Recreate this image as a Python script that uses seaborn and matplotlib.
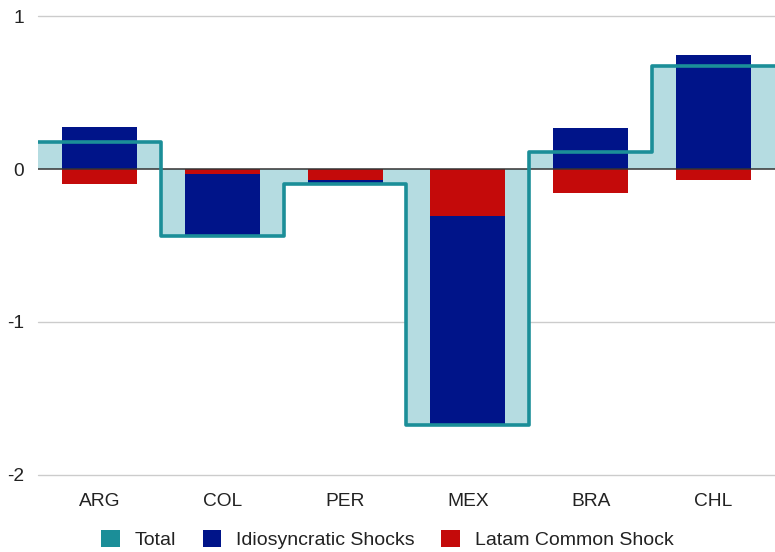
import numpy as np
import pandas as pd
import matplotlib
matplotlib.use("Agg")
import matplotlib.pyplot as plt
import seaborn as sns
from matplotlib.patches import Patch

countries = ["ARG", "COL", "PER", "MEX", "BRA", "CHL"]
idiosyncratic = [0.275, -0.41, -0.02, -1.36, 0.268, 0.745]
common = [-0.098, -0.03, -0.075, -0.31, -0.157, -0.072]
total = [0.177, -0.44, -0.095, -1.67, 0.111, 0.673]
yticks = [1, 0, -1, -2]

TEAL = "#1b8e98"
FILL = "#b5dce1"
NAVY = "#001489"
RED = "#c40a0a"

sns.set_theme(style="white")
plt.rcParams["font.family"] = ["Liberation Sans", "DejaVu Sans"]

df = pd.DataFrame({"country": countries, "idio": idiosyncratic,
                   "common": common, "total": total})
# negative idiosyncratic shocks stack below a negative common shock
df["idio_base"] = np.where((df["idio"] < 0) & (df["common"] < 0), df["common"], 0.0)

fig = plt.figure(figsize=(7.75, 5.52), dpi=100)
ax = fig.add_axes([0.049, 0.1395, 0.951, 0.8315])

# total as a stepped area across each country's band
edges = np.arange(len(countries) + 1) - 0.5
step_vals = np.append(df["total"].values, df["total"].values[-1])
ax.fill_between(edges, 0, step_vals, step="post", color=FILL, lw=0, zorder=1)

sns.barplot(data=df, x="country", y="common", color=RED, width=0.61,
            saturation=1, ax=ax, zorder=2, linewidth=0)
sns.barplot(data=df, x="country", y="idio", bottom=df["idio_base"].values,
            color=NAVY, width=0.61, saturation=1, ax=ax, zorder=2, linewidth=0)

ax.step(edges, step_vals, where="post", color=TEAL, lw=2.6, zorder=4,
        solid_joinstyle="round", solid_capstyle="butt")

ax.set_xlim(-0.5, len(countries) - 0.5)
ax.set_ylim(-2, 1)
ax.set_yticks(yticks)
ax.set_yticklabels([str(v) for v in yticks])
for v in yticks:
    if v != 0:
        ax.axhline(v, color="#cccccc", lw=1, zorder=0, clip_on=False)
ax.axhline(0, color="#333333", lw=1.1, zorder=3)

for s in ax.spines.values():
    s.set_visible(False)
ax.set_xlabel("")
ax.set_ylabel("")
ax.tick_params(axis="both", length=0, labelsize=13.8, colors="#222222")
ax.tick_params(axis="x", pad=13)
ax.tick_params(axis="y", pad=10)

handles = [Patch(facecolor=TEAL, edgecolor="none", label="Total"),
           Patch(facecolor=NAVY, edgecolor="none", label="Idiosyncratic Shocks"),
           Patch(facecolor=RED, edgecolor="none", label="Latam Common Shock")]
fig.legend(handles=handles, loc="center", bbox_to_anchor=(0.5, 0.022), ncol=3,
           frameon=False, fontsize=14, handlelength=0.95, handleheight=0.95,
           columnspacing=1.35, handletextpad=0.78, labelcolor="#222222")

fig.savefig("out.png", dpi=100)
